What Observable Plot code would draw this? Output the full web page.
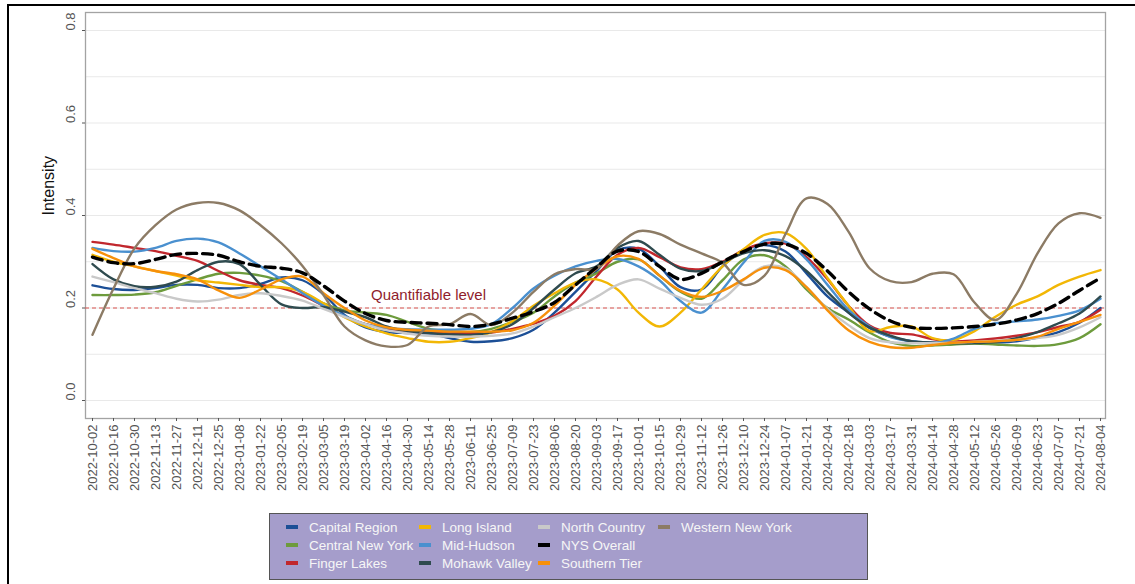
<!DOCTYPE html>
<html><head><meta charset="utf-8">
<script src="https://cdn.jsdelivr.net/npm/d3@7"></script>
<script src="https://cdn.jsdelivr.net/npm/@observablehq/plot@0.6"></script>
<style>
body{margin:0;background:#fff;width:1135px;height:584px;overflow:hidden;position:relative;font-family:"Liberation Sans",Arial,sans-serif}
#chart{position:absolute;left:0;top:0}
#frame{position:absolute;left:7px;top:4px;width:1200px;height:700px;border-left:2.5px solid #000;border-top:2.5px solid #000;pointer-events:none}
#legend{position:absolute;left:269px;top:513px;width:599px;height:67px;background:#a59dcb;border:1px solid #555;box-sizing:border-box}
.item{position:absolute;color:#f6f6f6;font-size:13.5px;line-height:18px;white-space:nowrap}
.key{display:inline-block;width:12px;height:4px;vertical-align:middle;margin-right:11px;margin-top:-2px}
</style>
</head><body>
<div id="chart"></div>
<div id="legend"></div>
<div id="frame"></div>
<script>
const dates = ["2022-10-02","2022-10-16","2022-10-30","2022-11-13","2022-11-27","2022-12-11","2022-12-25","2023-01-08","2023-01-22","2023-02-05","2023-02-19","2023-03-05","2023-03-19","2023-04-02","2023-04-16","2023-04-30","2023-05-14","2023-05-28","2023-06-11","2023-06-25","2023-07-09","2023-07-23","2023-08-06","2023-08-20","2023-09-03","2023-09-17","2023-10-01","2023-10-15","2023-10-29","2023-11-12","2023-11-26","2023-12-10","2023-12-24","2024-01-07","2024-01-21","2024-02-04","2024-02-18","2024-03-03","2024-03-17","2024-03-31","2024-04-14","2024-04-28","2024-05-12","2024-05-26","2024-06-09","2024-06-23","2024-07-07","2024-07-21","2024-08-04"];

const regions = ["Capital Region","Central New York","Finger Lakes","Long Island","Mid-Hudson","Mohawk Valley","North Country","NYS Overall","Southern Tier","Western New York"];
const colors = ["#1c4f96","#6d9b3c","#c1272d","#f2b705","#4a90cf","#2f4b4f","#c9c9c9","#000000","#f7900a","#8c7b65"];

const capitalRegion = [0.249,0.241,0.239,0.243,0.25,0.25,0.243,0.243,0.252,0.266,0.26,0.23,0.185,0.158,0.148,0.146,0.145,0.135,0.127,0.128,0.135,0.153,0.19,0.235,0.28,0.325,0.328,0.29,0.245,0.24,0.29,0.325,0.336,0.322,0.275,0.225,0.19,0.157,0.138,0.128,0.125,0.124,0.124,0.125,0.128,0.136,0.148,0.168,0.2];
const centralNewYork = [0.228,0.228,0.229,0.234,0.248,0.262,0.274,0.276,0.27,0.258,0.235,0.21,0.195,0.19,0.185,0.17,0.155,0.15,0.148,0.155,0.17,0.19,0.225,0.255,0.275,0.3,0.305,0.27,0.235,0.22,0.26,0.305,0.314,0.29,0.24,0.2,0.175,0.147,0.126,0.118,0.119,0.121,0.123,0.121,0.119,0.118,0.122,0.135,0.165];
const fingerLakes = [0.343,0.337,0.33,0.323,0.313,0.302,0.28,0.26,0.25,0.243,0.227,0.205,0.182,0.165,0.155,0.15,0.147,0.145,0.145,0.147,0.155,0.166,0.183,0.215,0.268,0.315,0.33,0.31,0.288,0.284,0.3,0.325,0.34,0.339,0.31,0.262,0.205,0.162,0.146,0.143,0.133,0.128,0.13,0.134,0.14,0.148,0.159,0.17,0.196];
const longIsland = [0.315,0.3,0.29,0.28,0.27,0.26,0.255,0.25,0.245,0.245,0.235,0.21,0.18,0.16,0.145,0.135,0.127,0.127,0.135,0.148,0.172,0.205,0.232,0.255,0.262,0.24,0.19,0.16,0.19,0.24,0.29,0.327,0.358,0.362,0.328,0.265,0.205,0.15,0.159,0.16,0.135,0.131,0.15,0.181,0.207,0.225,0.25,0.268,0.282];
const midHudson = [0.33,0.323,0.322,0.33,0.345,0.35,0.342,0.318,0.29,0.262,0.232,0.205,0.183,0.165,0.157,0.154,0.153,0.153,0.155,0.165,0.2,0.242,0.27,0.29,0.302,0.306,0.29,0.26,0.215,0.19,0.24,0.298,0.345,0.343,0.305,0.25,0.196,0.16,0.137,0.128,0.124,0.134,0.155,0.167,0.171,0.175,0.183,0.195,0.22];
const mohawkValley = [0.295,0.262,0.247,0.246,0.257,0.282,0.3,0.295,0.25,0.208,0.2,0.202,0.192,0.18,0.16,0.15,0.146,0.143,0.142,0.148,0.165,0.2,0.24,0.275,0.29,0.33,0.345,0.315,0.285,0.28,0.298,0.318,0.325,0.312,0.28,0.235,0.19,0.158,0.14,0.128,0.125,0.124,0.124,0.127,0.135,0.148,0.167,0.188,0.225];
const northCountry = [0.268,0.256,0.243,0.232,0.22,0.214,0.218,0.228,0.232,0.226,0.216,0.198,0.181,0.165,0.152,0.145,0.14,0.138,0.138,0.14,0.145,0.16,0.18,0.2,0.224,0.25,0.262,0.242,0.222,0.207,0.22,0.26,0.29,0.286,0.245,0.198,0.163,0.135,0.126,0.124,0.124,0.125,0.127,0.129,0.131,0.135,0.142,0.158,0.18];
const nysOverall = [0.31,0.298,0.296,0.305,0.316,0.318,0.314,0.3,0.29,0.286,0.276,0.248,0.215,0.188,0.173,0.169,0.167,0.164,0.16,0.165,0.178,0.192,0.212,0.25,0.288,0.323,0.322,0.29,0.262,0.275,0.3,0.322,0.338,0.338,0.318,0.28,0.235,0.198,0.172,0.158,0.156,0.157,0.16,0.165,0.174,0.188,0.21,0.238,0.265];
const southernTier = [0.328,0.308,0.29,0.28,0.273,0.262,0.238,0.222,0.24,0.262,0.268,0.232,0.2,0.173,0.158,0.153,0.151,0.149,0.149,0.149,0.152,0.168,0.205,0.25,0.285,0.312,0.306,0.27,0.237,0.224,0.237,0.262,0.287,0.282,0.245,0.195,0.152,0.127,0.115,0.114,0.12,0.125,0.127,0.128,0.131,0.138,0.155,0.17,0.185];
const westernNewYork = [0.142,0.242,0.329,0.379,0.413,0.427,0.427,0.411,0.379,0.34,0.291,0.228,0.16,0.13,0.117,0.12,0.16,0.165,0.187,0.163,0.19,0.235,0.273,0.284,0.285,0.335,0.366,0.36,0.337,0.318,0.298,0.25,0.27,0.36,0.437,0.425,0.365,0.286,0.258,0.256,0.274,0.273,0.212,0.174,0.23,0.318,0.383,0.405,0.395];

const yTicks = [0, 0.2, 0.4, 0.6, 0.8];
const yGrid = [0, 0.1, 0.2, 0.3, 0.4, 0.5, 0.6, 0.7, 0.8];
const quantifiable = [{date: "2023-05-14", value: 0.2, label: "Quantifiable level"}];
const yTitle = "Intensity";

const seriesList = [capitalRegion, centralNewYork, fingerLakes, longIsland, midHudson, mohawkValley, northCountry, nysOverall, southernTier, westernNewYork];
const rows = regions.flatMap((r, k) => seriesList[k].map((v, i) => ({region: r, date: dates[i], value: v})));
const regional = rows.filter(d => d.region !== "NYS Overall");
const overall = rows.filter(d => d.region === "NYS Overall");

const font = "'Liberation Sans', Arial, sans-serif";
const plot = Plot.plot({
  width: 1135, height: 500,
  marginTop: 12, marginBottom: 82, marginLeft: 85, marginRight: 30,
  style: {fontFamily: font, background: "transparent", overflow: "visible"},
  x: {type: "point", domain: dates, padding: 0, insetLeft: 3.5, insetRight: 2},
  y: {domain: [0, 0.8], insetTop: 18, insetBottom: 18},
  color: {domain: regions, range: colors},
  marks: [
    Plot.gridY(yGrid, {stroke: "#e9e9e9", strokeOpacity: 1, strokeWidth: 1.2}),
    Plot.frame({stroke: "#a3a3a3", strokeWidth: 1.3}),
    Plot.ruleY(quantifiable, {y: "value", stroke: "#d9534f", strokeDasharray: "4,3", strokeWidth: 1.1}),
    Plot.text(quantifiable, {x: "date", y: "value", text: "label", dy: -13, fill: "#8f1d2c", fontSize: 15}),
    Plot.line(regional, {x: "date", y: "value", z: "region", stroke: "region", strokeWidth: 2.4, curve: "catmull-rom"}),
    Plot.line(overall, {x: "date", y: "value", stroke: "#000", strokeWidth: 3.4, strokeDasharray: "10,6", curve: "catmull-rom"}),
    Plot.axisX({tickRotate: -90, tickSize: 3, tickPadding: 3, fontSize: 13, fill: "#555", stroke: "#555", label: null}),
    Plot.axisY({ticks: yTicks, tickSize: 3, tickFormat: () => "", label: null, stroke: "#555"}),
    Plot.text(yTicks, {y: d => d, text: d => d.toFixed(1), frameAnchor: "left", dx: -15, rotate: -90, fontSize: 13, fill: "#555"}),
    Plot.text([yTitle], {text: d => d, frameAnchor: "left", dx: -37, rotate: -90, fontSize: 16, fill: "#111"})
  ]
});
document.getElementById("chart").appendChild(plot);

const legend = document.getElementById("legend");
const colLeft = [16, 149, 268, 388];
regions.forEach((r, k) => {
  const c = Math.floor(k / 3), rr = k % 3;
  const it = document.createElement("div");
  it.className = "item";
  it.style.left = colLeft[c] + "px";
  it.style.top = (5 + rr * 18) + "px";
  it.innerHTML = `<span class="key" style="background:${colors[k]}"></span>${r}`;
  legend.appendChild(it);
});
</script>
</body></html>
